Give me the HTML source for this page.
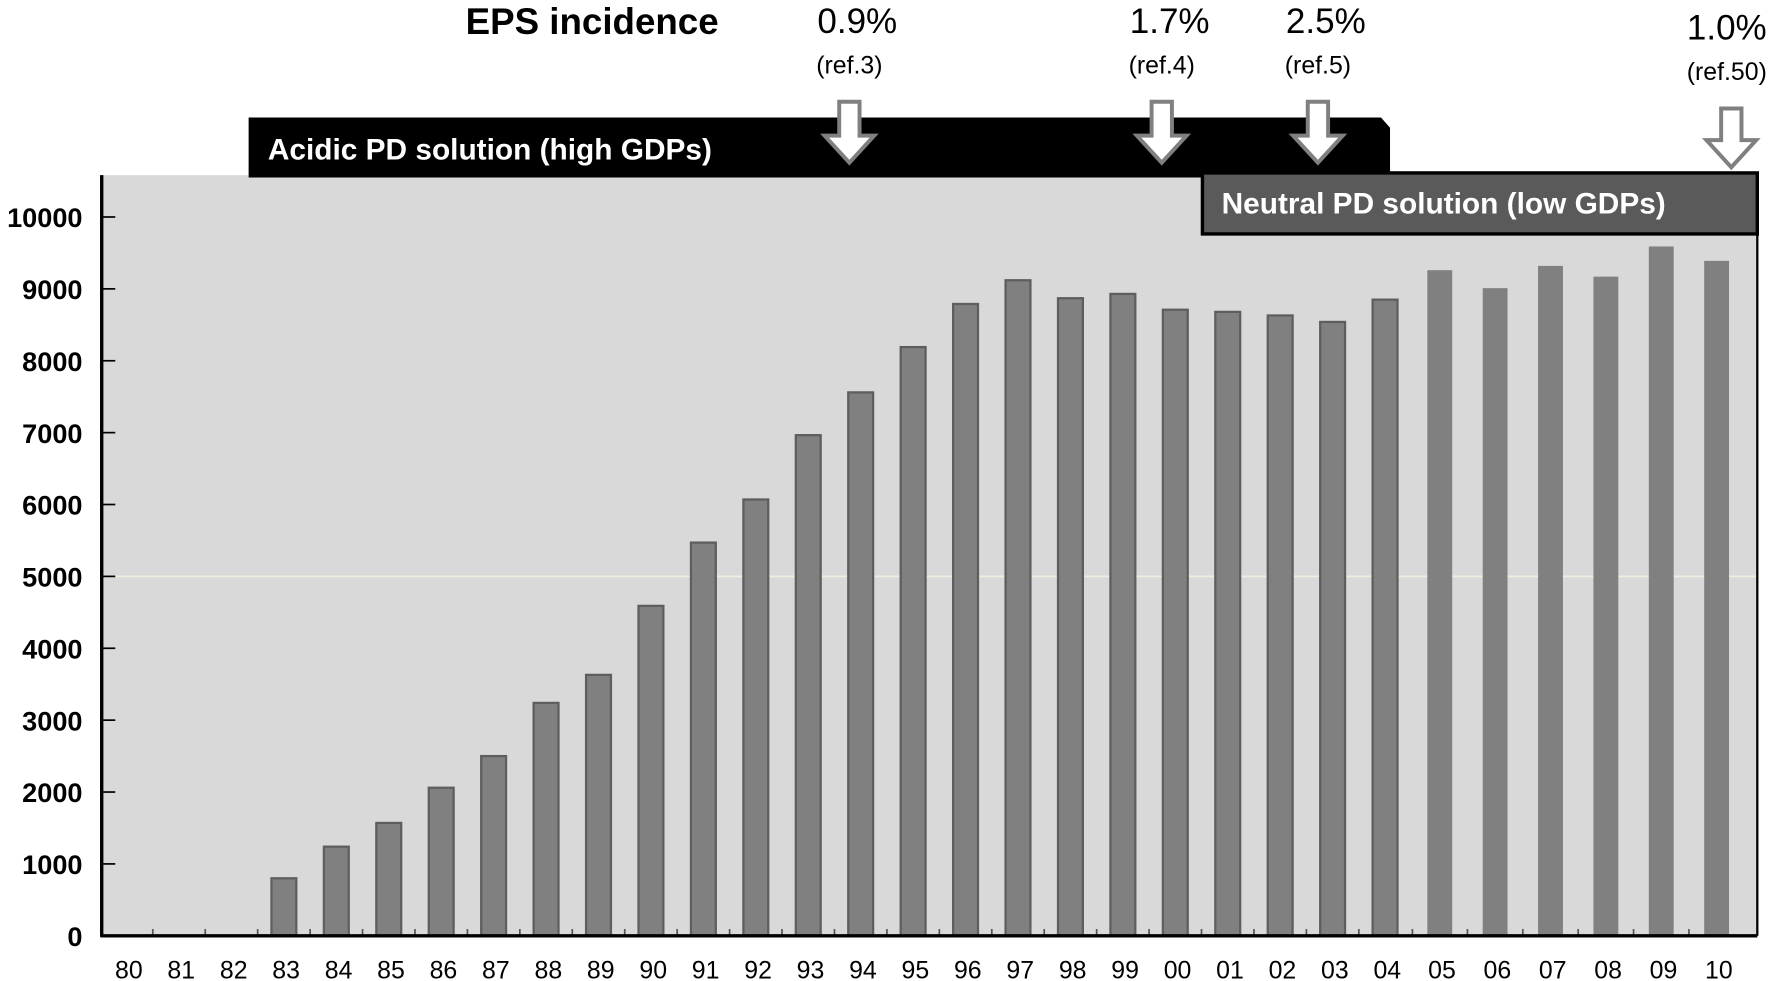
<!DOCTYPE html>
<html><head><meta charset="utf-8"><style>
html,body{margin:0;padding:0;background:#fff;}
svg{display:block;}
text{font-family:"Liberation Sans",sans-serif;}
</style></head><body>
<svg id="chart" width="1772" height="981" viewBox="0 0 1568 868" preserveAspectRatio="none" xmlns="http://www.w3.org/2000/svg">
<rect x="90" y="155" width="1465" height="673" fill="#d9d9d9"/>
<line x1="92" x2="1555" y1="510" y2="510" stroke="#f0eede" stroke-width="1.5"/>
<g id="bars"></g>
<g id="yaxis"></g>
<g id="xaxis"></g>
<line x1="90" x2="90" y1="155" y2="829" stroke="#000" stroke-width="3"/>
<line x1="89" x2="1555" y1="828" y2="828" stroke="#000" stroke-width="3"/>
<line x1="1555" x2="1555" y1="155" y2="828" stroke="#000" stroke-width="2"/>
<path d="M220,104 L1222,104 L1230,113 L1230,157 L220,157 Z" fill="#000"/>
<text x="237" y="141" font-size="26.4" font-weight="bold" fill="#fff">Acidic PD solution (high GDPs)</text>
<rect x="1064" y="153" width="491" height="54" fill="#5a5a5a" stroke="#000" stroke-width="3"/>
<text x="1081" y="189" font-size="26.4" font-weight="bold" fill="#fff">Neutral PD solution (low GDPs)</text>
<text x="412" y="30" font-size="32.5" font-weight="bold">EPS incidence</text>
<g id="annots"></g>
</svg>
<script>
const categories=["80","81","82","83","84","85","86","87","88","89","90","91","92","93","94","95","96","97","98","99","00","01","02","03","04","05","06","07","08","09","10"];
const values=[0,0,0,800,1240,1570,2060,2500,3240,3630,4590,5470,6070,6965,7560,8190,8790,9120,8870,8930,8710,8680,8630,8540,8850,9260,9010,9320,9170,9590,9390];
const yTicks=[0,1000,2000,3000,4000,5000,6000,7000,8000,9000,10000];
const annPct=["0.9%","1.7%","2.5%","1.0%"];
const annRef=["(ref.3)","(ref.4)","(ref.5)","(ref.50)"];
const annYear=["94","00","03","10"];
const NS="http://www.w3.org/2000/svg";
function y(v){return 828-v*0.0636;}
function x(i){return i<=24?112+i*46.4:1274+(i-25)*49;}
function mk(tag,attrs,parent,txt){const e=document.createElementNS(NS,tag);for(const k in attrs)e.setAttribute(k,attrs[k]);if(txt!==undefined)e.textContent=txt;parent.appendChild(e);return e;}
const bars=document.getElementById('bars'),ya=document.getElementById('yaxis'),xa=document.getElementById('xaxis'),an=document.getElementById('annots');
values.forEach((v,i)=>{
  if(v<=0)return;
  const late=i>=25;
  const r=mk('rect',{x:x(i)-11,y:y(v),width:22,height:828-y(v),fill:'#808080',stroke:late?'none':'#5e5e5e','stroke-width':2},bars);
  
  
});
yTicks.forEach(t=>{
  const l=mk('line',{x1:90,x2:102,y1:y(t),y2:y(t),stroke:'#000','stroke-width':1.5},ya);
  
  
  const tx=mk('text',{x:73,y:y(t)+9,'font-size':24,'font-weight':'bold','text-anchor':'end'},ya,String(t));
  
  
});
categories.forEach((c,i)=>{
  if(i<categories.length-1){
    const mx=(x(i)+x(i+1))/2;
    const tk=mk('line',{x1:mx,x2:mx,y1:828,y2:822,stroke:'#555','stroke-width':1.5},xa);
    
    
  }
  const tx=mk('text',{x:x(i)+2,y:866,'font-size':22,'text-anchor':'middle'},xa,c);
  
  
});
const arrowOff=[-10,-12,-13,13];
annYear.forEach((yr,k)=>{
  const i=categories.indexOf(yr);
  const cx=x(i)+arrowOff[k];
  const top=k==3?96:90, bot=k==3?148:144;
  const p=mk('path',{d:`M${cx-9},${top} L${cx+9},${top} L${cx+9},${bot-24} L${cx+22},${bot-24} L${cx},${bot} L${cx-22},${bot-24} L${cx-9},${bot-24} Z`,fill:'#fff',stroke:'#808080','stroke-width':3.5},an);
  
  
  const off=k==3?6:0;
  const t1=mk('text',{x:k==3?cx-4:cx+7,y:29+off,'font-size':31,'text-anchor':'middle'},an,annPct[k]);
  
  
  const t2=mk('text',{x:k==3?cx-4:cx,y:65+off,'font-size':22,'text-anchor':'middle'},an,annRef[k]);
  
  
});
</script>
</body></html>
